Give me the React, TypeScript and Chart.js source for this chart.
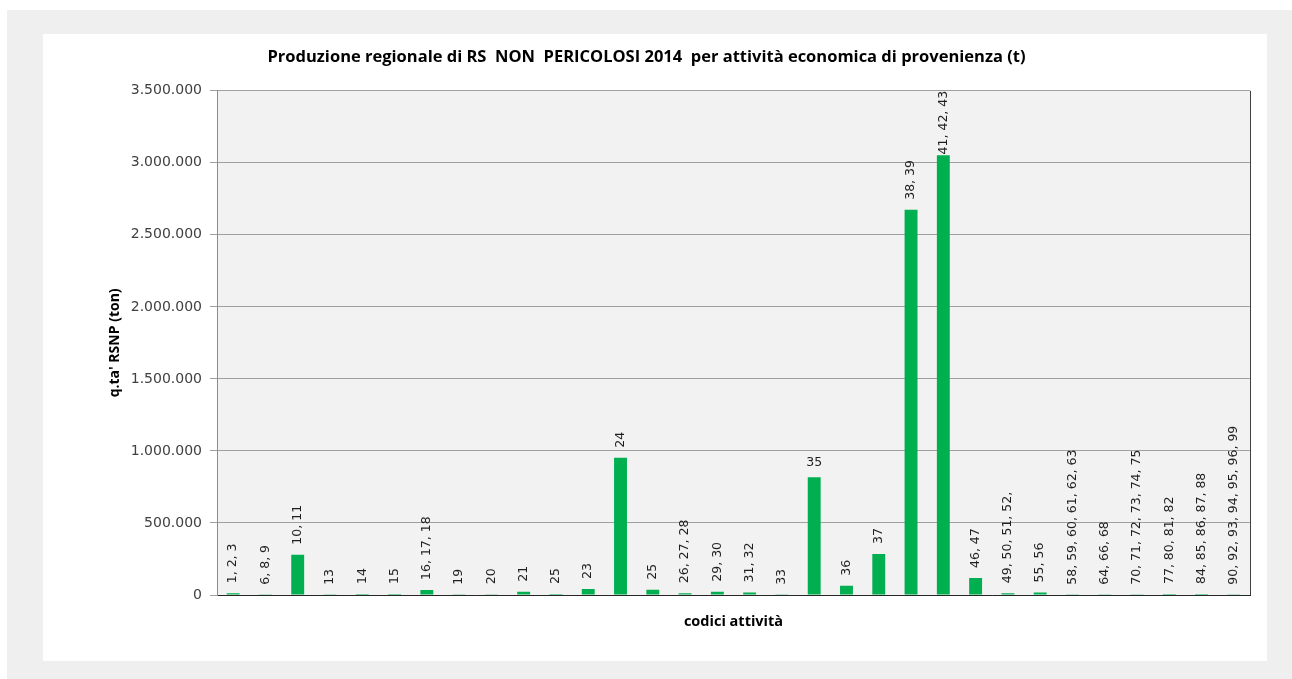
import React, { useEffect, useRef } from "react";
import { Chart, registerables } from "chart.js";

Chart.register(...registerables);

const categories: string[] = [
  "1, 2, 3",
  "6, 8, 9",
  "10, 11",
  "13",
  "14",
  "15",
  "16, 17, 18",
  "19",
  "20",
  "21",
  "25",
  "23",
  "24",
  "25",
  "26, 27, 28",
  "29, 30",
  "31, 32",
  "33",
  "35",
  "36",
  "37",
  "38, 39",
  "41, 42, 43",
  "46, 47",
  "49, 50, 51, 52,",
  "55, 56",
  "58, 59, 60, 61, 62, 63",
  "64, 66, 68",
  "70, 71, 72, 73, 74, 75",
  "77, 80, 81, 82",
  "84, 85, 86, 87, 88",
  "90, 92, 93, 94, 95, 96, 99",
];

const values: number[] = [
  12000, 2000, 280000, 1000, 7000, 7000, 35000, 2000, 6000, 23000, 7000, 42000,
  953000, 36000, 12000, 23000, 18000, 1000, 817000, 65000, 285000, 2674000,
  3053000, 118000, 12000, 18000, 2000, 1500, 1500, 7000, 7000, 2000,
];

const horizontalLabels: string[] = ["35"];

const yTicks = { min: 0, max: 3500000, step: 500000 };

const chartTitle =
  "Produzione regionale di RS  NON  PERICOLOSI 2014  per attività economica di provenienza (t)";
const yTitle = "q.ta' RSNP (ton)";
const xTitle = "codici attività";

const formatIt = (v: number) =>
  String(Math.round(v)).replace(/\B(?=(\d{3})+(?!\d))/g, ".");

const plotBgPlugin = {
  id: "plotBg",
  beforeDraw(chart: any) {
    const { ctx, chartArea } = chart;
    ctx.save();
    ctx.fillStyle = "#F2F2F2";
    ctx.fillRect(
      chartArea.left,
      chartArea.top,
      chartArea.right - chartArea.left,
      chartArea.bottom - chartArea.top
    );
    ctx.restore();
  },
  afterDraw(chart: any) {
    const { ctx, chartArea } = chart;
    ctx.save();
    ctx.strokeStyle = "#404040";
    ctx.lineWidth = 1;
    ctx.beginPath();
    ctx.moveTo(Math.round(chartArea.right) + 0.5, chartArea.top);
    ctx.lineTo(Math.round(chartArea.right) + 0.5, chartArea.bottom);
    ctx.stroke();
    ctx.restore();
  },
};

const barLabelPlugin = {
  id: "barLabels",
  afterDatasetsDraw(chart: any) {
    const { ctx, chartArea } = chart;
    const meta = chart.getDatasetMeta(0);
    ctx.save();
    ctx.font = "12.5px 'DejaVu Sans'";
    ctx.fillStyle = "#1F1F1F";
    meta.data.forEach((bar: any, i: number) => {
      const label = categories[i];
      const x = bar.x;
      const top = bar.y;
      if (horizontalLabels.includes(label)) {
        ctx.textAlign = "center";
        ctx.textBaseline = "alphabetic";
        ctx.fillText(label, x, top - 11);
        return;
      }
      const len = ctx.measureText(label).width;
      let start = top - 10;
      if (start - len < chartArea.top) start = chartArea.top + len;
      ctx.save();
      ctx.translate(x, start);
      ctx.rotate(-Math.PI / 2);
      ctx.textAlign = "left";
      ctx.textBaseline = "middle";
      ctx.fillText(label, 0, 0);
      ctx.restore();
    });
    ctx.restore();
  },
};

export default function App() {
  const canvasRef = useRef<HTMLCanvasElement | null>(null);

  useEffect(() => {
    const canvas = canvasRef.current;
    if (!canvas) return;
    const chart = new Chart(canvas, {
      type: "bar",
      data: {
        labels: categories,
        datasets: [
          {
            label: "RSNP",
            data: values,
            backgroundColor: "#00B050",
            borderWidth: 0,
            categoryPercentage: 1,
            barPercentage: 0.4,
          },
        ],
      },
      options: {
        animation: false,
        responsive: false,
        maintainAspectRatio: false,
        layout: { padding: { left: 0, right: 17, top: 0, bottom: 0 } },
        plugins: {
          legend: { display: false },
          tooltip: { enabled: false },
          title: {
            display: true,
            text: chartTitle,
            color: "#000000",
            font: { family: "Open Sans", size: 16.5, weight: "bold" },
            padding: { top: 13, bottom: 24 },
          },
        },
        scales: {
          x: {
            type: "category",
            ticks: { display: false },
            grid: { display: false, drawTicks: false },
            border: { display: true, color: "#262626", width: 1 },
            title: {
              display: true,
              text: xTitle,
              color: "#000000",
              font: { family: "Open Sans", size: 14.5, weight: "bold" },
              padding: { top: 0, bottom: 30 },
            },
            afterFit: (s: any) => {
              s.height = 66;
            },
          },
          y: {
            min: yTicks.min,
            max: yTicks.max,
            ticks: {
              stepSize: yTicks.step,
              color: "#404040",
              font: { family: "DejaVu Sans", size: 14 },
              padding: 8,
              callback: (v: any) => formatIt(Number(v)),
            },
            grid: {
              color: "#A0A0A0",
              lineWidth: 1,
              tickLength: 7,
              drawTicks: true,
            },
            border: { display: true, color: "#8C8C8C", width: 1 },
            title: {
              display: true,
              text: yTitle,
              color: "#000000",
              font: { family: "Open Sans", size: 14, weight: "bold" },
              padding: { top: 64, bottom: 0 },
            },
            afterFit: (s: any) => {
              s.width = 174;
            },
          },
        },
      },
      plugins: [plotBgPlugin, barLabelPlugin],
    });
    return () => chart.destroy();
  }, []);

  return (
    <div
      style={{
        position: "fixed",
        left: 0,
        top: 0,
        width: 1292,
        height: 679,
        background: "#FFFFFF",
      }}
    >
      <div
        style={{
          position: "absolute",
          left: 7,
          top: 10,
          width: 1285,
          height: 669,
          background: "#EFEFEF",
        }}
      />
      <div
        style={{
          position: "absolute",
          left: 43,
          top: 34,
          width: 1224,
          height: 627,
          background: "#FFFFFF",
        }}
      >
        <canvas
          ref={canvasRef}
          width={1224}
          height={627}
          style={{ display: "block", width: 1224, height: 627 }}
        />
      </div>
    </div>
  );
}
